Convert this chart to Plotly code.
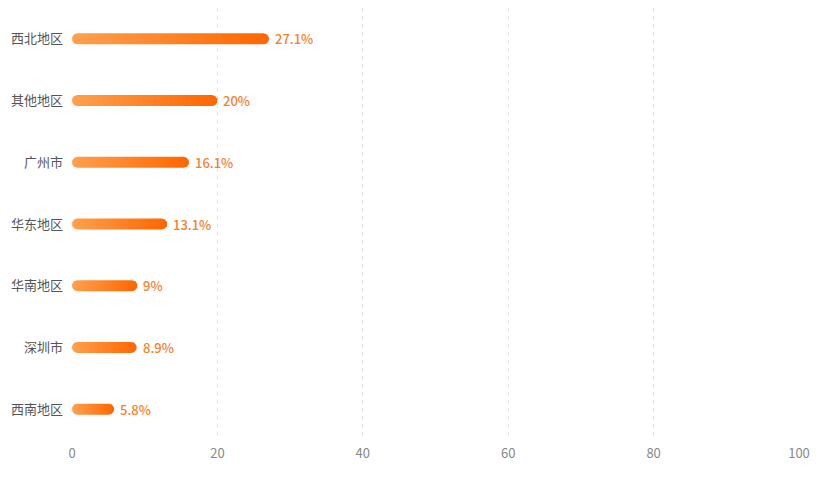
import numpy as np
import plotly.graph_objects as go

categories = ["西北地区", "其他地区", "广州市", "华东地区", "华南地区", "深圳市", "西南地区"]
values = [27.1, 20, 16.1, 13.1, 9, 8.9, 5.8]
x_ticks = [0, 20, 40, 60, 80, 100]

W, H = 835, 496
margin = dict(l=64, r=44, t=0, b=64)
x_range = [0, 100]
n = len(categories)
px_x = (W - margin["l"] - margin["r"]) / (x_range[1] - x_range[0])
px_y = (H - margin["t"] - margin["b"]) / n
half_px = 5.5
ry = half_px / px_y
rx = half_px / px_x

fig = go.Figure()
for i, v in enumerate(values):
    t1 = np.linspace(np.pi / 2, -np.pi / 2, 20)
    t2 = np.linspace(-np.pi / 2, -3 * np.pi / 2, 20)
    cr = max(v - rx, rx)
    xs = list(cr + rx * np.cos(t1)) + list(rx + rx * np.cos(t2))
    ys = list(i + ry * np.sin(t1)) + list(i + ry * np.sin(t2))
    xs.append(xs[0]); ys.append(ys[0])
    fig.add_trace(go.Scatter(
        x=xs, y=ys, mode="lines", fill="toself", line=dict(width=0),
        fillgradient=dict(type="horizontal", start=0, stop=v,
                          colorscale=[[0, "#FFA04E"], [1, "#FF6600"]]),
        hoverinfo="skip", showlegend=False))

for i, v in enumerate(values):
    fig.add_annotation(x=v, y=i, text=f"{v:g}%", showarrow=False,
                       xanchor="left", yanchor="middle", xshift=4,
                       font=dict(color="#F5822E", size=13, weight=500,
                                 family="Noto Sans CJK SC"))

fig.update_layout(
    width=W, height=H, margin=margin,
    plot_bgcolor="white", paper_bgcolor="white",
    font=dict(family="Noto Sans CJK SC", size=13),
    xaxis=dict(range=x_range, tickvals=x_ticks, showgrid=True, gridcolor="#E6E6E6",
               griddash="4px,4px", zeroline=False, showline=False, automargin=False,
               tickfont=dict(color="#888888", size=13), ticks="", ticklabelstandoff=4),
    yaxis=dict(range=[n - 0.5, -0.5], tickvals=list(range(n)), ticktext=categories,
               showgrid=False, zeroline=False, showline=False, ticks="", automargin=False,
               tickfont=dict(color="#555555", size=13), ticklabelstandoff=8),
)
fig.write_html("out.html")
